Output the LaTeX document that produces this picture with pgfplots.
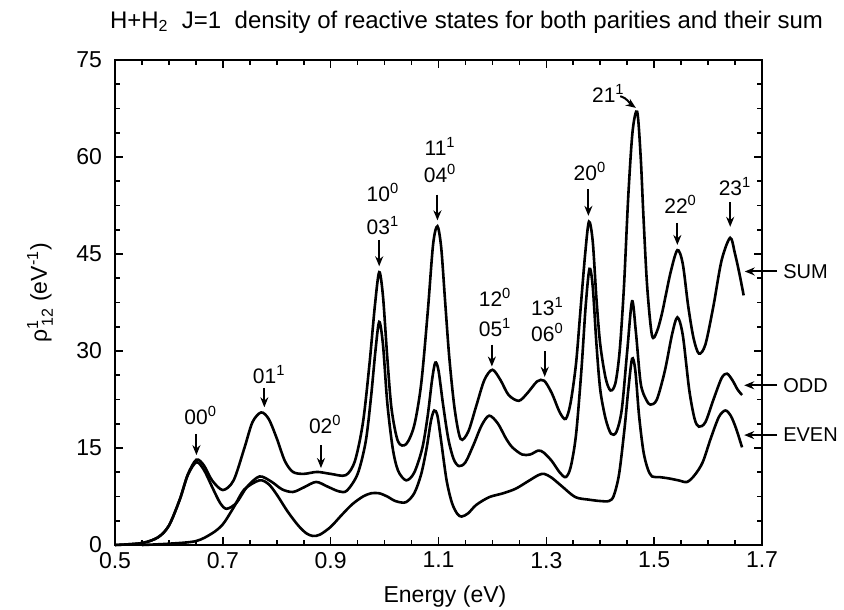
\documentclass[border=0pt]{standalone}
\usepackage{fontspec}
\setmainfont{Liberation Sans}
\usepackage{pgfplots}
\pgfplotsset{compat=1.18}
\usetikzlibrary{arrows.meta}

\newcommand{\lab}{\fontsize{10.5}{12}\selectfont}
\newcommand{\side}{\fontsize{10}{12}\selectfont}
\tikzset{lvl/.style={-{Stealth[length=5pt,width=4pt]}, line width=1pt}}

\begin{document}
\begin{tikzpicture}
\useasboundingbox (-57.5pt,-32pt) rectangle (364.5pt,272.5pt);
\begin{axis}[
  at={(0,0)}, anchor=south west,
  width=323.5pt, height=242.5pt, scale only axis,
  xmin=0.5, xmax=1.7, ymin=0, ymax=75,
  xtick={0.5,0.7,0.9,1.1,1.3,1.5,1.7},
  xticklabels={0.5,0.7,0.9,1.1,1.3,1.5,1.7},
  minor x tick num=3,
  ytick={0,15,30,45,60,75},
  minor y tick num=3,
  /pgf/number format/assume math mode=true,
  tick label style={font=\fontsize{11.5}{13}\selectfont},
  yticklabel style={xshift=-3pt},
  major tick length=4pt, minor tick length=2.5pt,
  axis line style={line width=1.1pt},
  every tick/.style={line width=0.8pt, black},
  xlabel={Energy (eV)},
  xlabel style={at={(axis description cs:0.51,-0.107)}, anchor=center, font=\fontsize{11.5}{13}\selectfont},
  ylabel={ρ$^{\mbox{\fontsize{8}{9}\selectfont 1}}_{\mbox{\fontsize{8}{9}\selectfont \,12}}$ (eV$^{\mbox{\fontsize{8}{9}\selectfont -1}}$)},
  ylabel style={at={(axis description cs:-0.116,0.52)}, anchor=center, font=\fontsize{11.5}{13}\selectfont},
  clip=false,
  cycle list={black},
  every axis plot post/.append style={black, mark=none, line width=1.3pt, smooth, tension=0.5},
]

% sum of both parities
\addplot coordinates {
(0.50,0.0) (0.55,0.3) (0.58,1.2) (0.60,3.0) (0.62,7.0) (0.635,10.9) (0.651,13.2)
(0.665,12.3) (0.68,10.0) (0.70,8.5) (0.72,10.0) (0.74,15.0) (0.755,19.0) (0.771,20.5)
(0.785,19.5) (0.80,16.5) (0.815,13.0) (0.83,11.3) (0.85,11.0) (0.875,11.3) (0.90,11.0)
(0.928,10.8) (0.945,13.0) (0.96,19.0) (0.972,28.0) (0.982,37.0) (0.99,42.2) (0.997,38.5)
(1.005,29.0) (1.013,21.0) (1.025,16.0) (1.04,15.6) (1.055,18.5) (1.068,25.0) (1.08,36.0)
(1.09,46.5) (1.098,49.3) (1.105,46.0) (1.112,38.0) (1.12,29.0) (1.13,21.0) (1.141,16.4)
(1.155,17.5) (1.17,21.5) (1.185,25.5) (1.20,27.1) (1.215,25.5) (1.23,23.2) (1.249,22.3)
(1.265,23.5) (1.283,25.3) (1.296,25.4) (1.31,23.5) (1.325,20.5) (1.336,19.5) (1.345,22.0)
(1.355,28.0) (1.363,36.0) (1.372,45.0) (1.379,50.0) (1.386,47.0) (1.393,38.0) (1.40,31.0)
(1.41,25.8) (1.419,23.9) (1.428,25.0) (1.436,30.0) (1.444,40.0) (1.452,54.0) (1.46,64.0)
(1.4685,67.0) (1.475,60.0) (1.48,51.0) (1.487,40.0) (1.496,32.4) (1.505,33.0) (1.515,36.0)
(1.53,42.0) (1.543,45.6) (1.553,43.5) (1.563,37.0) (1.573,32.0) (1.583,29.6) (1.595,31.0)
(1.61,37.0) (1.625,44.0) (1.641,47.5) (1.65,45.0) (1.658,42.0) (1.666,38.6)
};

% odd parity
\addplot coordinates {
(0.50,0.0) (0.55,0.3) (0.58,1.2) (0.60,3.0) (0.62,7.0) (0.635,10.8) (0.651,12.8)
(0.665,11.6) (0.68,9.0) (0.695,6.5) (0.707,5.6) (0.725,6.5) (0.745,9.0) (0.768,10.6)
(0.79,9.8) (0.81,8.6) (0.83,8.2) (0.85,8.9) (0.873,9.75) (0.895,9.0) (0.915,8.3)
(0.93,8.4) (0.95,11.0) (0.965,16.0) (0.975,23.0) (0.983,30.0) (0.99,34.5) (0.997,31.0)
(1.005,22.0) (1.015,15.0) (1.025,11.5) (1.04,10.0) (1.055,11.2) (1.07,15.0) (1.08,20.0)
(1.088,25.5) (1.094,28.2) (1.10,27.0) (1.108,22.0) (1.118,16.5) (1.128,13.3) (1.138,12.2)
(1.15,12.8) (1.165,15.5) (1.18,18.5) (1.194,20.0) (1.21,18.8) (1.225,16.5) (1.237,15.1)
(1.255,14.0) (1.27,14.0) (1.285,14.6) (1.295,14.3) (1.31,13.0) (1.325,11.2) (1.336,10.5)
(1.345,12.0) (1.355,17.0) (1.365,27.0) (1.373,37.0) (1.38,42.7) (1.386,40.0) (1.393,31.0)
(1.40,24.0) (1.41,19.5) (1.42,17.2) (1.43,17.5) (1.44,21.0) (1.45,30.0) (1.459,37.7)
(1.466,33.0) (1.475,25.0) (1.485,22.5) (1.493,21.7) (1.505,22.5) (1.52,27.0) (1.533,32.5)
(1.543,35.2) (1.553,32.5) (1.565,24.0) (1.575,19.5) (1.583,18.3) (1.595,19.0) (1.61,22.5)
(1.625,25.8) (1.635,26.5) (1.645,25.5) (1.655,24.0) (1.663,23.2)
};

% even parity
\addplot coordinates {
(0.55,0.0) (0.60,0.2) (0.65,0.6) (0.68,1.8) (0.70,3.2) (0.72,5.8) (0.74,8.6)
(0.768,10.0) (0.785,9.4) (0.80,7.8) (0.82,5.2) (0.84,3.0) (0.855,1.8) (0.867,1.4)
(0.88,1.6) (0.90,2.8) (0.92,4.6) (0.94,6.3) (0.96,7.5) (0.975,8.0) (0.99,8.0)
(1.005,7.5) (1.02,6.8) (1.039,6.6) (1.055,8.0) (1.068,11.0) (1.078,15.0) (1.086,19.2)
(1.092,20.8) (1.098,20.0) (1.105,16.0) (1.115,10.0) (1.125,6.5) (1.135,4.8) (1.143,4.4)
(1.155,4.9) (1.17,6.2) (1.194,7.4) (1.22,8.0) (1.243,8.7) (1.265,9.8) (1.285,10.8)
(1.296,11.0) (1.31,10.4) (1.33,9.0) (1.354,7.4) (1.38,7.0) (1.40,6.8) (1.416,6.8)
(1.425,7.6) (1.435,11.0) (1.445,18.0) (1.452,24.0) (1.459,28.8) (1.465,27.0) (1.472,20.0)
(1.48,14.5) (1.488,11.8) (1.496,10.6) (1.51,10.5) (1.527,10.3) (1.545,10.0) (1.561,9.75)
(1.575,10.8) (1.59,12.8) (1.605,16.5) (1.62,19.8) (1.632,20.8) (1.642,20.0) (1.652,18.0)
(1.663,15.1)
};

% title
\node[anchor=base west, font=\fontsize{12}{14}\selectfont] at (rel axis cs:0,1) [shift={(-6pt,16pt)}]
  {H+H\textsubscript{2}\ \ J=1\ \ density of reactive states for both parities and their sum};

% state assignments
\node[font=\lab] at (axis cs:0.659,20.1) {00\textsuperscript{0}};
\draw[lvl] (axis cs:0.651,17.2) -- (axis cs:0.651,13.9);
\node[font=\lab] at (axis cs:0.786,26.3) {01\textsuperscript{1}};
\draw[lvl] (axis cs:0.777,24.3) -- (axis cs:0.777,21.3);
\node[font=\lab] at (axis cs:0.890,18.7) {02\textsuperscript{0}};
\draw[lvl] (axis cs:0.882,15.4) -- (axis cs:0.882,11.9);
\node[font=\lab] at (axis cs:0.997,54.5) {10\textsuperscript{0}};
\node[font=\lab] at (axis cs:0.997,49.4) {03\textsuperscript{1}};
\draw[lvl] (axis cs:0.990,47.2) -- (axis cs:0.990,43.1);
\node[font=\lab] at (axis cs:1.103,61.6) {11\textsuperscript{1}};
\node[font=\lab] at (axis cs:1.103,57.4) {04\textsuperscript{0}};
\draw[lvl] (axis cs:1.098,54.2) -- (axis cs:1.098,50.2);
\node[font=\lab] at (axis cs:1.205,38.3) {12\textsuperscript{0}};
\node[font=\lab] at (axis cs:1.205,33.6) {05\textsuperscript{1}};
\draw[lvl] (axis cs:1.199,31.0) -- (axis cs:1.199,27.6);
\node[font=\lab] at (axis cs:1.302,36.9) {13\textsuperscript{1}};
\node[font=\lab] at (axis cs:1.302,32.9) {06\textsuperscript{0}};
\draw[lvl] (axis cs:1.297,30.0) -- (axis cs:1.297,26.0);
\node[font=\lab] at (axis cs:1.381,57.8) {20\textsuperscript{0}};
\draw[lvl] (axis cs:1.378,55.0) -- (axis cs:1.378,50.9);
\node[font=\lab] at (axis cs:1.415,69.8) {21\textsuperscript{1}};
\draw[lvl] (axis cs:1.437,69.4) to[out=-15,in=145] (axis cs:1.466,67.6);
\node[font=\lab] at (axis cs:1.549,52.7) {22\textsuperscript{0}};
\draw[lvl] (axis cs:1.543,49.8) -- (axis cs:1.543,46.4);
\node[font=\lab] at (axis cs:1.650,55.5) {23\textsuperscript{1}};
\draw[lvl] (axis cs:1.641,53.0) -- (axis cs:1.641,49.2);

% curve labels
\draw[lvl] (axis cs:1.728,42.3) -- (axis cs:1.668,42.3);
\node[font=\side, anchor=west, inner sep=1pt] at (axis cs:1.735,42.3) {SUM};
\draw[lvl] (axis cs:1.728,24.7) -- (axis cs:1.667,24.7);
\node[font=\side, anchor=west, inner sep=1pt] at (axis cs:1.735,24.7) {ODD};
\draw[lvl] (axis cs:1.728,17.0) -- (axis cs:1.667,17.0);
\node[font=\side, anchor=west, inner sep=1pt] at (axis cs:1.735,17.0) {EVEN};
\end{axis}
\end{tikzpicture}
\end{document}
